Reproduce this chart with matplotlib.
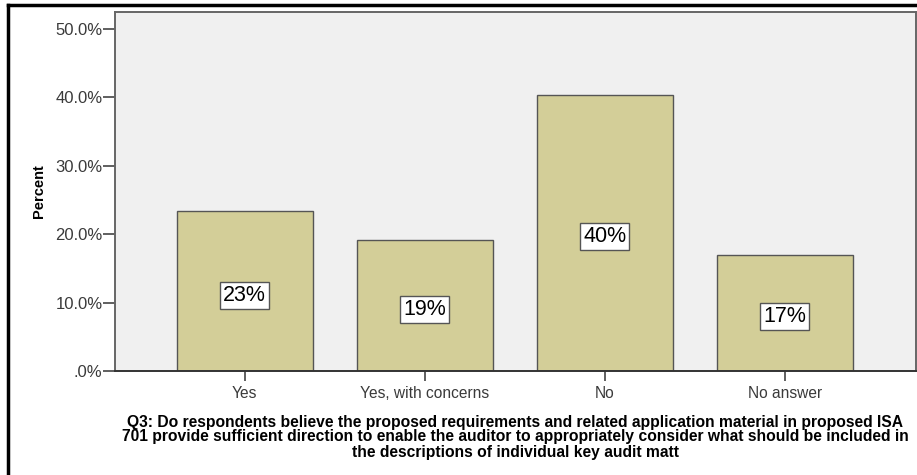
import matplotlib.pyplot as plt
from matplotlib.lines import Line2D

categories = ["Yes", "Yes, with concerns", "No", "No answer"]
percents = [23.4, 19.2, 40.4, 17.0]
labels = ["23%", "19%", "40%", "17%"]
yticks = [0, 10, 20, 30, 40, 50]
ytick_labels = [".0%", "10.0%", "20.0%", "30.0%", "40.0%", "50.0%"]
caption = ("Q3: Do respondents believe the proposed requirements and related application material in proposed ISA\n"
           "701 provide sufficient direction to enable the auditor to appropriately consider what should be included in\n"
           "the descriptions of individual key audit matt")

plt.rcParams['font.family'] = ['Liberation Sans', 'DejaVu Sans']

W, H = 917, 475
fig = plt.figure(figsize=(W / 100, H / 100), dpi=100)
ax = fig.add_axes([115 / W, (H - 371) / H, (916 - 115) / W, (371 - 12) / H])
ax.set_facecolor("#f0f0f0")

x = range(len(categories))
ax.bar(x, percents, width=0.755, color="#d3ce98", edgecolor="#555555", linewidth=1.0, zorder=2)

for i, (v, lab) in enumerate(zip(percents, labels)):
    ax.text(i, v / 2 - 0.6, lab, ha="center", va="center", fontsize=15.5, color="black", zorder=3,
            bbox=dict(boxstyle="square,pad=0.14", facecolor="white", edgecolor="#555555", linewidth=1.0))

ax.set_xlim(-0.72, 3.73)
ax.set_ylim(0, 52.5)
ax.set_yticks(yticks)
ax.set_yticklabels(ytick_labels)
ax.set_xticks(list(x))
ax.set_xticklabels(categories)
ax.tick_params(axis="both", direction="out", width=1.2, color="#444444", labelcolor="#3a3a3a")
ax.tick_params(axis="y", labelsize=12, length=8.5, pad=0.5)
ax.tick_params(axis="x", labelsize=11.2, length=7.5, pad=3)
for s in ax.spines.values():
    s.set_color("#666666")
    s.set_linewidth(1.4)
ax.spines["bottom"].set_color("#333333")

ax.set_ylabel("Percent", fontsize=10.5, fontweight="bold", labelpad=6.8)

fig.text(515 / W, 1 - 437 / H, caption, ha="center", va="center", fontsize=11.25,
         fontweight="bold", linespacing=1.0)

# outer frame (left and top only)
fig.add_artist(Line2D([8 / W, 8 / W], [0, 1 - 5 / H], transform=fig.transFigure, color="black", linewidth=2.5))
fig.add_artist(Line2D([8 / W, 1], [1 - 5 / H, 1 - 5 / H], transform=fig.transFigure, color="black", linewidth=2.5))

fig.savefig("out.png", dpi=100, facecolor="white")
